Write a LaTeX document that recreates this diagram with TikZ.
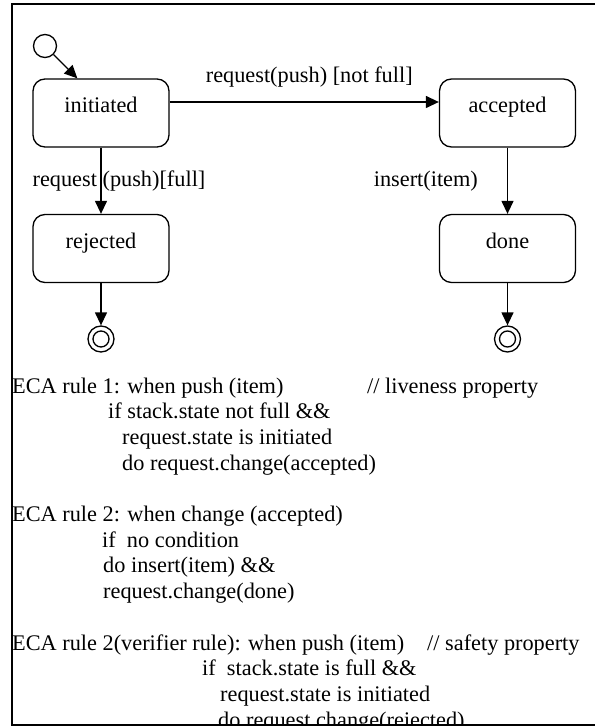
\documentclass[tikz,border=0pt]{standalone}
\usepackage{fontspec}
\setmainfont{Liberation Serif}
\usetikzlibrary{arrows.meta}

\tikzset{
  state/.style={draw, line width=1.3pt, rounded corners=12pt,
    minimum width=136pt, minimum height=68pt,
    text height=8pt, text depth=8pt, inner sep=0pt},
  startdot/.style={draw, circle, line width=1.3pt, minimum size=23pt, inner sep=0pt},
  endstate/.style={draw, circle, line width=1.3pt, minimum size=26pt, inner sep=0pt,
    path picture={\draw[line width=1.3pt] (path picture bounding box.center) circle (8pt);}},
  trans/.style={line width=1.3pt, -{Triangle[length=13pt,width=12pt]}},
  lbl/.style={inner sep=0pt},
  eca/.style={anchor=base west, inner sep=0pt}
}

\begin{document}
\begin{tikzpicture}[x=1pt, y=-1pt, font=\fontsize{22.3}{25.7}\selectfont]
\useasboundingbox (0,0) rectangle (594,727);

% states
\node[startdot] (start) at (45,46) {};
\node[state] (init) at (101,113) {initiated};
\node[state] (acc) at (507.5,113) {accepted};
\node[state] (rej) at (101,248.5) {rejected};
\node[state] (done) at (507.5,248.5) {done};
\node[endstate] (endrej) at (101,339) {};
\node[endstate] (enddone) at (507.5,339) {};

% transitions
\draw[trans] (start) -- ([xshift=45pt]init.north west);
\draw[trans] ([yshift=11pt]init.east) -- node[lbl, above=14pt, xshift=5pt] (lblacc) {request(push) [not full]} ([yshift=11pt]acc.west);
\draw[trans] (init) -- node[lbl, xshift=18pt] (lblrej) {request (push)[full]} (rej);
\draw[trans] (acc) -- node[lbl, left=29pt] (lblins) {insert(item)} (done);
\draw[trans] (rej) -- (endrej);
\draw[trans] (done) -- (enddone);

% ECA rules
\begin{scope}
\clip (0,0) rectangle (594,725);
\node[eca] (r1a) at (12,393) {ECA rule 1: when push (item)};
\node[eca] (r1c) at (367,393) {// liveness property};
\node[eca] (r1b) at (108,418.7) {if stack.state not full \&\&};
\node[eca] (r1d) at (122,444.4) {request.state is initiated};
\node[eca] (r1e) at (122,470.1) {do request.change(accepted)};

\node[eca] (r2a) at (12,521.5) {ECA rule 2: when change (accepted)};
\node[eca] (r2b) at (102,547.2) {if \ no condition};
\node[eca] (r2c) at (103,572.9) {do insert(item) \&\&};
\node[eca] (r2d) at (103,598.6) {request.change(done)};

\node[eca] (r3a) at (12,650) {ECA rule 2(verifier rule): when push (item)};
\node[eca] (r3b) at (427,650) {// safety property};
\node[eca] (r3c) at (202,675.7) {if \ stack.state is full \&\&};
\node[eca] (r3d) at (220,701.4) {request.state is initiated};
\node[eca] (r3e) at (218,727.1) {do request.change(rejected)};
\end{scope}

% frame
\draw[line width=2pt] (600,4) -- (11.5,4) -- (11.5,725) -- (600,725);
\end{tikzpicture}
\end{document}
